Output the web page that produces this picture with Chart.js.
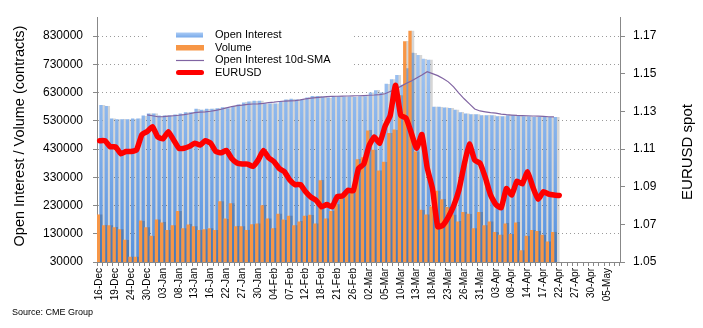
<!DOCTYPE html>
<html>
<head>
<meta charset="utf-8">
<script src="https://cdn.jsdelivr.net/npm/chart.js@4.4.1/dist/chart.umd.min.js"></script>
<style>
    html, body { margin: 0; padding: 0; background: #fff; }
    #wrap { width: 703px; height: 328px; position: relative; }
</style>
</head>
<body>
<div id="wrap"><canvas id="chart" width="703" height="328"></canvas></div>
<script>
// Trading days, 16-Dec to 07-May
const labels = [
    "16-Dec", "17-Dec", "18-Dec", "19-Dec", "20-Dec", "23-Dec", "24-Dec", "26-Dec", "27-Dec", "30-Dec",
    "31-Dec", "02-Jan", "03-Jan", "06-Jan", "07-Jan", "08-Jan", "09-Jan", "10-Jan", "13-Jan", "14-Jan",
    "15-Jan", "16-Jan", "17-Jan", "21-Jan", "22-Jan", "23-Jan", "24-Jan", "27-Jan", "28-Jan", "29-Jan",
    "30-Jan", "31-Jan", "03-Feb", "04-Feb", "05-Feb", "06-Feb", "07-Feb", "10-Feb", "11-Feb", "12-Feb",
    "13-Feb", "14-Feb", "18-Feb", "19-Feb", "20-Feb", "21-Feb", "24-Feb", "25-Feb", "26-Feb", "27-Feb",
    "28-Feb", "02-Mar", "03-Mar", "04-Mar", "05-Mar", "06-Mar", "09-Mar", "10-Mar", "11-Mar", "12-Mar",
    "13-Mar", "16-Mar", "17-Mar", "18-Mar", "19-Mar", "20-Mar", "23-Mar", "24-Mar", "25-Mar", "26-Mar",
    "27-Mar", "30-Mar", "31-Mar", "01-Apr", "02-Apr", "03-Apr", "06-Apr", "07-Apr", "08-Apr", "09-Apr",
    "13-Apr", "14-Apr", "15-Apr", "16-Apr", "17-Apr", "20-Apr", "21-Apr", "22-Apr", "23-Apr", "24-Apr",
    "27-Apr", "28-Apr", "29-Apr", "30-Apr", "01-May", "04-May", "05-May", "06-May", "07-May"
];

const openInterest = [
    585000, 581500, 537000, 534000, 534000, 534000, 537000, 537000, 547600, 554400,
    554400, 547600, 547600, 547600, 551000, 554400, 558800, 558800, 571300, 568000,
    571300, 571300, 573000, 577000, 573000, 581000, 587000, 594000, 597000, 600000,
    600000, 590000, 590000, 590000, 597000, 604000, 607000, 604000, 604000, 611000,
    617000, 617000, 614000, 611000, 614000, 616000, 614000, 615000, 613000, 616000,
    616000, 629000, 637000, 629000, 660000, 676000, 691000, 657000, 715000, 770000,
    762000, 749000, 745000, 579000, 579000, 576000, 574000, 568000, 559000, 555000,
    552000, 552000, 549000, 549000, 549000, 545000, 545000, 549000, 549000, 549000,
    545000, 545000, 542000, 542000, 542000, 542000, 542000
];

const volume = [
    197000, 158800, 158800, 152000, 145000, 108000, 47000, 47000, 175800, 152000,
    121500, 179000, 169000, 142000, 158800, 209700, 148600, 162000, 155400, 142000,
    145000, 148600, 141900, 243600, 182500, 236800, 155400, 155400, 141900, 162200,
    165600, 230000, 182500, 148600, 199500, 179200, 192700, 158800, 172400, 192700,
    196100, 165600, 318100, 182500, 209700, 233400, 253700, 274100, 274100, 392700,
    400000, 495000, 426600, 353000, 383600, 485300, 497800, 619800, 810700, 848000,
    420000, 214000, 197000, 225000, 281000, 251000, 223200, 196100, 172400, 206300,
    199500, 148600, 206300, 158800, 172400, 135100, 124900, 165600, 128300, 169000,
    70700, 121500, 141900, 138500, 124900, 101200, 135100
];

const oiSma = [
    null, null, null, null, null, null, null, null, null,
    551000, 548000, 544500, 545000, 546300, 548000, 549700, 552000, 555000, 558800,
    560500, 562000, 564000, 567000, 571000, 576000, 580000, 584000, 585500, 588000,
    589500, 590300, 592000, 594500, 596000, 598400, 600000, 601000, 601800, 604000,
    607500, 610700, 612500, 614000, 615500, 616400, 617000, 617500, 618000, 618500,
    618800, 619500, 620500, 621500, 623000, 626000, 634000, 642000, 652000, 662000,
    671000, 682000, 692000, 704000, 697000, 690000, 680000, 668000, 650000, 628000,
    608000, 590000, 572000, 565000, 562000, 559000, 557000, 554000, 552000, 550500,
    549000, 548500, 548000, 547000, 546300, 545500, 544500, 544000
];

const eurusd = [
    1.1144, 1.1144, 1.1112, 1.1112, 1.1075, 1.1087, 1.1087, 1.1096, 1.1177, 1.1193,
    1.1219, 1.1164, 1.1154, 1.1192, 1.1148, 1.1104, 1.1104, 1.1114, 1.1131, 1.1121,
    1.1144, 1.1131, 1.1087, 1.1080, 1.1092, 1.1050, 1.1026, 1.1020, 1.1020, 1.1008,
    1.1041, 1.1092, 1.1053, 1.1033, 1.0996, 1.0979, 1.0935, 1.0911, 1.0911, 1.0873,
    1.0844, 1.0827, 1.0793, 1.0805, 1.0793, 1.0848, 1.0851, 1.0881, 1.0878, 1.0996,
    1.1020, 1.1117, 1.1164, 1.1131, 1.1219, 1.1278, 1.1438, 1.1278, 1.1264, 1.1185,
    1.1104, 1.1177, 1.1000, 1.0890, 1.0687, 1.0696, 1.0738, 1.0797, 1.0881, 1.1016,
    1.1126, 1.1041, 1.1025, 1.0949, 1.0856, 1.0805, 1.0788, 1.0890, 1.0856, 1.0929,
    1.0915, 1.0979, 1.0898, 1.0834, 1.0873, 1.0861, 1.0856, 1.0853
];

const leftTicks = [30000, 130000, 230000, 330000, 430000, 530000, 630000, 730000, 830000];
const rightTicks = [1.05, 1.07, 1.09, 1.11, 1.13, 1.15, 1.17];

const FONT = "'Liberation Sans', Arial, sans-serif";
const BLUE_TOP = "#afcef6";
const BLUE_BOTTOM = "#5591de";
const ORANGE = "#f79646";
const PURPLE = "#8064a2";
const RED = "#ff0000";

let blueGrad = null;
function oiColor(context) {
    const chart = context.chart;
    if (!chart.chartArea) return BLUE_TOP;
    if (!blueGrad) {
        blueGrad = chart.ctx.createLinearGradient(0, chart.chartArea.top, 0, chart.chartArea.bottom);
        blueGrad.addColorStop(0, BLUE_TOP);
        blueGrad.addColorStop(1, BLUE_BOTTOM);
    }
    return blueGrad;
}

// flat grey shadow on the bars, gives the stripes between them
const barShadow = {
    id: "barShadow",
    beforeDatasetDraw(chart, args) {
        if (args.index > 1) return;
        const ctx = chart.ctx;
        ctx.save();
        ctx.shadowColor = "rgba(0,0,0,0.16)";
        ctx.shadowOffsetX = 2.6;
        ctx.shadowOffsetY = 0;
        ctx.shadowBlur = 0.5;
    },
    afterDatasetDraw(chart, args) {
        if (args.index > 1) return;
        chart.ctx.restore();
    }
};

// legend box inside the plot
const boxLegend = {
    id: "boxLegend",
    beforeDatasetsDraw(chart) {
        const ctx = chart.ctx;
        ctx.save();
        ctx.fillStyle = "#fff";
        ctx.fillRect(150, 28, 202, 54);

        const g = ctx.createLinearGradient(0, 32, 0, 38);
        g.addColorStop(0, BLUE_TOP);
        g.addColorStop(1, "#73a6e8");
        ctx.fillStyle = g;
        ctx.fillRect(176, 32.5, 27, 5);

        ctx.fillStyle = ORANGE;
        ctx.fillRect(176, 45, 28, 5.5);

        ctx.strokeStyle = PURPLE;
        ctx.lineWidth = 1.2;
        ctx.beginPath();
        ctx.moveTo(176, 60.5);
        ctx.lineTo(204, 60.5);
        ctx.stroke();

        ctx.strokeStyle = RED;
        ctx.lineWidth = 5;
        ctx.lineCap = "round";
        ctx.beginPath();
        ctx.moveTo(178.5, 72.5);
        ctx.lineTo(201.5, 72.5);
        ctx.stroke();

        ctx.fillStyle = "#000";
        ctx.font = "11px " + FONT;
        ctx.textBaseline = "middle";
        ctx.textAlign = "left";
        ctx.fillText("Open Interest", 215, 35);
        ctx.fillText("Volume", 215, 47.5);
        ctx.fillText("Open Interest 10d-SMA", 215, 60);
        ctx.fillText("EURUSD", 215, 72.5);
        ctx.restore();
    }
};

// axis titles and source note
const sideTexts = {
    id: "sideTexts",
    afterDraw(chart) {
        const ctx = chart.ctx;
        ctx.save();
        ctx.fillStyle = "#000";
        ctx.textAlign = "center";
        ctx.textBaseline = "middle";

        ctx.save();
        ctx.translate(20, 136);
        ctx.rotate(-Math.PI / 2);
        ctx.font = "14.5px " + FONT;
        ctx.fillText("Open Interest / Volume (contracts)", 0, 0);
        ctx.restore();

        ctx.save();
        ctx.translate(688, 152);
        ctx.rotate(-Math.PI / 2);
        ctx.font = "15px " + FONT;
        ctx.fillText("EURUSD spot", 0, 0);
        ctx.restore();

        ctx.textAlign = "left";
        ctx.font = "9px " + FONT;
        ctx.fillText("Source: CME Group", 12, 313);
        ctx.restore();
    }
};

const ctx = document.getElementById("chart").getContext("2d");

new Chart(ctx, {
    type: "bar",
    data: {
        labels: labels,
        datasets: [
            {
                label: "Open Interest",
                data: openInterest,
                backgroundColor: oiColor,
                yAxisID: "y",
                order: 4,
                barPercentage: 1,
                categoryPercentage: 1
            },
            {
                label: "Volume",
                data: volume,
                backgroundColor: ORANGE,
                yAxisID: "y",
                order: 3,
                barPercentage: 1,
                categoryPercentage: 1
            },
            {
                type: "line",
                label: "Open Interest 10d-SMA",
                data: oiSma,
                borderColor: PURPLE,
                borderWidth: 1.2,
                pointRadius: 0,
                tension: 0,
                yAxisID: "y",
                order: 2
            },
            {
                type: "line",
                label: "EURUSD",
                data: eurusd,
                borderColor: RED,
                borderWidth: 5.5,
                borderJoinStyle: "round",
                borderCapStyle: "round",
                pointRadius: 0,
                tension: 0.15,
                yAxisID: "y1",
                order: 1
            }
        ]
    },
    options: {
        responsive: false,
        animation: false,
        devicePixelRatio: 1,
        layout: { padding: { top: 6, left: 0, right: 0, bottom: 0 } },
        plugins: {
            legend: { display: false },
            tooltip: { enabled: false }
        },
        scales: {
            x: {
                type: "category",
                offset: true,
                grid: {
                    display: true,
                    offset: true,
                    drawOnChartArea: false,
                    drawTicks: true,
                    tickLength: 4,
                    tickColor: "#888"
                },
                border: { display: true, color: "#888" },
                ticks: {
                    autoSkip: false,
                    minRotation: 90,
                    maxRotation: 90,
                    padding: 2,
                    color: "#000",
                    font: { family: FONT, size: 10 },
                    callback: function (val, i) {
                        return i % 3 === 0 ? labels[i] : "";
                    }
                },
                afterFit: function (scale) { scale.height = 66; }
            },
            y: {
                position: "left",
                min: 30000,
                max: 897000,
                afterBuildTicks: function (scale) {
                    scale.ticks = leftTicks.map(v => ({ value: v }));
                },
                grid: {
                    color: "#9a9a9a",
                    lineWidth: 1,
                    drawTicks: true,
                    tickLength: 4,
                    tickColor: "#888"
                },
                border: { display: true, color: "#888", dash: [1, 3] },
                ticks: {
                    padding: 10,
                    color: "#000",
                    font: { family: FONT, size: 12 },
                    callback: v => String(v)
                },
                afterFit: function (scale) { scale.width = 97; }
            },
            y1: {
                position: "right",
                min: 1.05,
                max: 1.18,
                afterBuildTicks: function (scale) {
                    scale.ticks = rightTicks.map(v => ({ value: v }));
                },
                grid: {
                    drawOnChartArea: false,
                    drawTicks: true,
                    tickLength: 5,
                    tickColor: "#888"
                },
                border: { display: true, color: "#888" },
                ticks: {
                    padding: 8,
                    color: "#000",
                    font: { family: FONT, size: 12 },
                    callback: v => v.toFixed(2)
                },
                afterFit: function (scale) { scale.width = 83; }
            }
        }
    },
    plugins: [barShadow, boxLegend, sideTexts]
});
</script>
</body>
</html>
